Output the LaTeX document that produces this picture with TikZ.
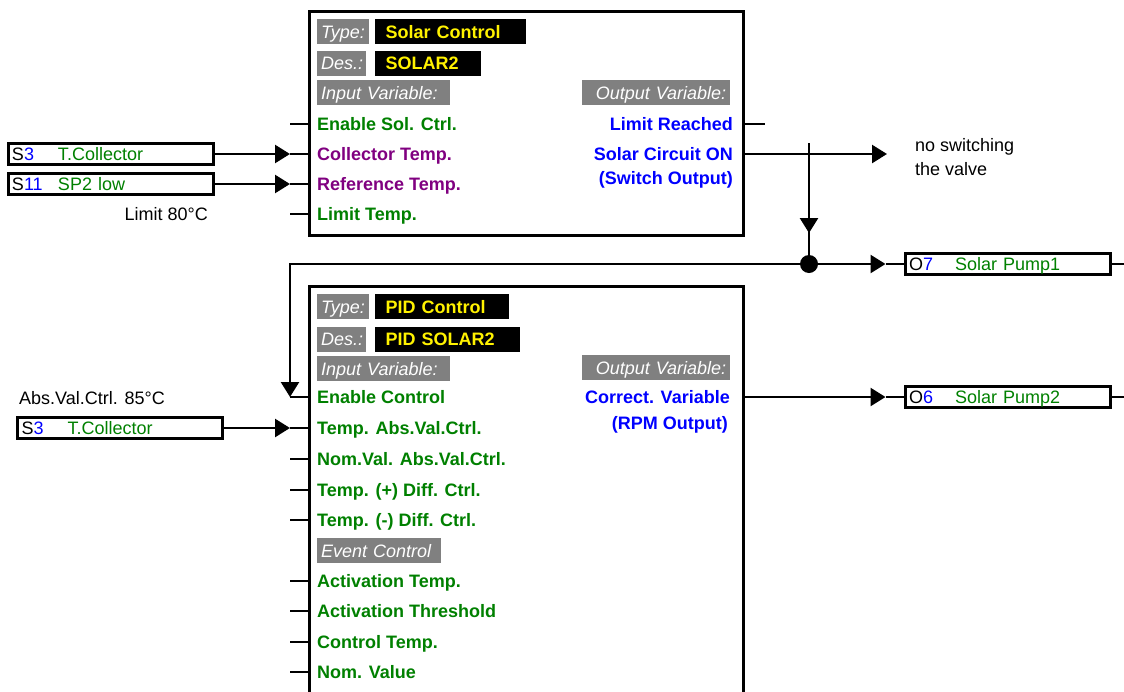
\documentclass[tikz,border=0pt]{standalone}
\usepackage{fontspec}
\setmainfont{Liberation Sans}
\usetikzlibrary{positioning, arrows.meta, decorations.markings}

\definecolor{taggray}{RGB}{128,128,128}
\definecolor{vargreen}{RGB}{0,128,0}
\definecolor{varpurple}{RGB}{128,0,128}
\definecolor{varblue}{RGB}{0,0,255}

\newcommand{\pxfont}{\fontsize{18}{21}\selectfont}
\newcommand{\iotext}[3]{\makebox[46pt][l]{#1\textcolor{varblue}{#2}}\textcolor{vargreen}{#3}}

\tikzset{
  fblock/.style={draw, line width=3pt, anchor=north west, inner sep=0pt},
  row/.style={inner sep=0pt, text height=13pt, text depth=0pt},
  graytag/.style={fill=taggray, text=white, font=\pxfont\itshape, anchor=north west, align=left,
    inner xsep=4pt, inner ysep=0pt, minimum height=25pt, text height=13pt, text depth=0pt},
  typetag/.style={fill=black, text=yellow, font=\pxfont\bfseries, anchor=north west, align=left,
    inner xsep=11pt, inner ysep=0pt, minimum height=25pt, text height=13pt, text depth=0pt},
  invar/.style={row, anchor=west, font=\pxfont\bfseries, text=vargreen},
  outvar/.style={row, anchor=east, font=\pxfont\bfseries, text=varblue},
  note/.style={row},
  iobox/.style={draw, line width=3pt, inner xsep=4pt, inner ysep=0pt, text width=197pt,
    minimum height=21pt, text height=13pt, text depth=0pt, align=left},
  wire/.style={line width=2.5pt},
  arr/.style={-{Triangle[length=15pt,width=18pt]}},
  arrowat/.style={postaction={decorate}, decoration={markings,
    mark=at position #1 with {\arrow{Triangle[length=15pt,width=18pt]}}}},
  junc/.style={circle, fill, inner sep=0pt, minimum size=18pt}
}

\begin{document}
\begin{tikzpicture}[x=1pt, y=-1pt, font=\pxfont]
\useasboundingbox (0,0) rectangle (1124,691);

% solar control block
\node[fblock, minimum width=434pt, minimum height=224pt] (solar) at (308,10) {};
\node[graytag, text width=44pt] (soltypelbl) at (317,19) {Type:};
\node[typetag, text width=129pt, right=5pt of soltypelbl] (soltype) {Solar Control};
\node[graytag, text width=41pt, below=6pt of soltypelbl.south west, anchor=north west] (soldeslbl) {Des.:};
\node[typetag, text width=84pt, right=8pt of soldeslbl] (soldes) {SOLAR2};
\node[graytag, text width=125pt, below=4pt of soldeslbl.south west, anchor=north west] (solinlbl) {Input Variable:};
\node[graytag, text width=140pt, align=right] (soloutlbl) at (582,80) {Output Variable:};

\node[invar] (ensol) at (317,124) {Enable Sol. Ctrl.};
\node[invar, text=varpurple] (colltemp) at (317,154) {Collector Temp.};
\node[invar, text=varpurple] (reftemp) at (317,184) {Reference Temp.};
\node[invar] (limtemp) at (317,214) {Limit Temp.};
\node[outvar] (limreach) at (733,124) {Limit Reached};
\node[outvar] (solon) at (733,154) {Solar Circuit ON};
\node[outvar] (solsw) at (733,178) {(Switch Output)};

% pid control block
\node[fblock, minimum width=434pt, minimum height=420pt] (pid) at (308,285) {};
\node[graytag, text width=44pt] (pidtypelbl) at (317,294) {Type:};
\node[typetag, text width=112pt, right=5pt of pidtypelbl] (pidtype) {PID Control};
\node[graytag, text width=41pt, below=7pt of pidtypelbl.south west, anchor=north west] (piddeslbl) {Des.:};
\node[typetag, text width=123pt, right=8pt of piddeslbl] (piddes) {PID SOLAR2};
\node[graytag, text width=125pt, below=4pt of piddeslbl.south west, anchor=north west] (pidinlbl) {Input Variable:};
\node[graytag, text width=140pt, align=right] (pidoutlbl) at (582,355) {Output Variable:};

\node[invar] (enctrl) at (317,397) {Enable Control};
\node[invar] (tabs) at (317,428) {Temp. Abs.Val.Ctrl.};
\node[invar] (nomabs) at (317,459) {Nom.Val. Abs.Val.Ctrl.};
\node[invar] (tplus) at (317,490) {Temp. (+) Diff. Ctrl.};
\node[invar] (tminus) at (317,520) {Temp. (-) Diff. Ctrl.};
\node[graytag, text width=116pt] (eventlbl) at (317,538) {Event Control};
\node[invar] (acttemp) at (317,581) {Activation Temp.};
\node[invar] (actthr) at (317,611) {Activation Threshold};
\node[invar] (ctrltemp) at (317,642) {Control Temp.};
\node[invar] (nomval) at (317,672) {Nom. Value};
\node[outvar] (corrvar) at (730,397) {Correct. Variable};
\node[outvar] (rpmout) at (728,423) {(RPM Output)};

% sensors and outputs
\node[iobox] (s3a) at (110.5,154) {\iotext{S}{3}{T.Collector}};
\node[iobox] (s11) at (110.5,184) {\iotext{S}{11}{SP2 low}};
\node[note, anchor=east] (limval) at (208,214) {Limit 80°C};
\node[note, anchor=west] (absval) at (19,398) {Abs.Val.Ctrl. 85°C};
\node[iobox] (s3b) at (120,428) {\iotext{S}{3}{T.Collector}};
\node[iobox] (o7) at (1007.5,264) {\iotext{O}{7}{Solar Pump1}};
\node[iobox] (o6) at (1007.5,397) {\iotext{O}{6}{Solar Pump2}};
\coordinate (valve) at (887,154);
\node[note, anchor=west] (nosw) at (915,145) {no switching};
\node[note, anchor=west] (novalve) at (915,169) {the valve};

% input pins
\draw[wire] (ensol -| solar.west) -- ++(-18,0);
\draw[wire] (colltemp -| solar.west) -- ++(-18,0) coordinate (colltemp-pin);
\draw[wire] (reftemp -| solar.west) -- ++(-18,0) coordinate (reftemp-pin);
\draw[wire] (limtemp -| solar.west) -- ++(-18,0);
\draw[wire] (enctrl -| pid.west) -- ++(-18,0) coordinate (enctrl-pin);
\draw[wire] (tabs -| pid.west) -- ++(-18,0) coordinate (tabs-pin);
\draw[wire] (nomabs -| pid.west) -- ++(-18,0);
\draw[wire] (tplus -| pid.west) -- ++(-18,0);
\draw[wire] (tminus -| pid.west) -- ++(-18,0);
\draw[wire] (acttemp -| pid.west) -- ++(-18,0);
\draw[wire] (actthr -| pid.west) -- ++(-18,0);
\draw[wire] (ctrltemp -| pid.west) -- ++(-18,0);
\draw[wire] (nomval -| pid.west) -- ++(-18,0);

% connect nodes
\draw[wire, arr] (s3a) -- (colltemp-pin);
\draw[wire, arr] (s11) -- (reftemp-pin);
\draw[wire, arr] (s3b) -- (tabs-pin);

\draw[wire] (ensol -| solar.east) -- ++(20,0);
\draw[wire, arr] (colltemp -| solar.east) -- (valve);
\coordinate (tap) at (809,143);
\node[junc] (split) at (809,264) {};
\draw[wire, arrowat=90pt] (tap) -- (split);
\draw[wire] (o7.west) -- ++(-18,0) coordinate (o7-pin);
\draw[wire, arr] (split) -- (o7-pin);
\draw[wire, arr] (split) -| (enctrl-pin);
\draw[wire] (o7.east) -- ++(20,0);

\draw[wire] (o6.west) -- ++(-18,0) coordinate (o6-pin);
\draw[wire, arr] (enctrl -| pid.east) -- (o6-pin);
\draw[wire] (o6.east) -- ++(20,0);

\end{tikzpicture}
\end{document}
